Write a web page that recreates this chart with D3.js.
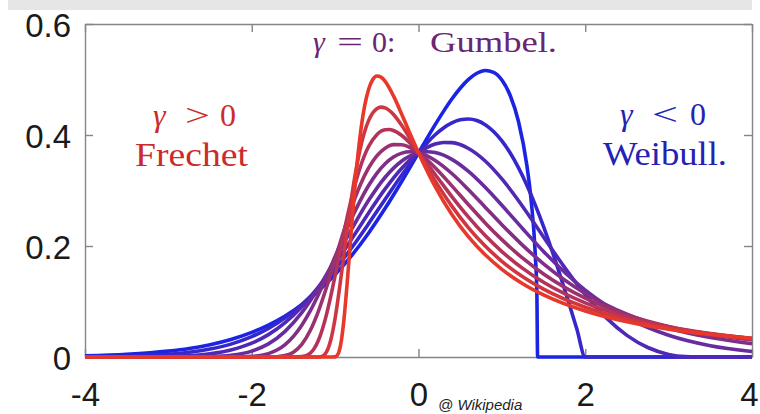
<!DOCTYPE html>
<html><head><meta charset="utf-8">
<script src="https://cdn.jsdelivr.net/npm/d3@7"></script>
<style>html,body{margin:0;padding:0;background:#fff;overflow:hidden}</style>
</head><body>
<svg id="chart" width="760" height="414"></svg>
<script>
// shape parameters (gamma) of the plotted densities, blue -> red
const gammaValues = [-0.7, -0.5, -0.3, -0.1, 0.1, 0.3, 0.5, 0.7, 0.9];
const xTickValues = [-4, -2, 0, 2, 4];
const yTickValues = [0, 0.2, 0.4, 0.6];

// density values, [x, density]
const curveGm07 = [[-4,0.0021],[-3.5,0.0048],[-3,0.0106],[-2.75,0.0154],[-2.5,0.0222],[-2.25,0.0315],[-2,0.0443],[-1.8,0.0575],[-1.6,0.0740],[-1.4,0.0943],[-1.2,0.1190],[-1,0.1486],[-0.8,0.1832],[-0.6,0.2231],[-0.4,0.2679],[-0.2,0.3167],[0,0.3679],[0.1,0.3935],[0.2,0.4186],[0.3,0.4426],[0.4,0.4648],[0.5,0.4843],[0.6,0.5002],[0.7,0.5113],[0.8,0.5162],[0.9,0.5129],[1.0,0.4990],[1.1,0.4712],[1.2,0.4239],[1.3,0.3450],[1.35,0.2839],[1.4,0.1863],[1.42,0.1116],[1.4286,0],[4,0]];
const curveGm05 = [[-4,0.0004],[-3.5,0.0014],[-3,0.0048],[-2.75,0.0084],[-2.5,0.0143],[-2.25,0.0232],[-2,0.0366],[-1.8,0.0514],[-1.6,0.0705],[-1.4,0.0945],[-1.2,0.1237],[-1,0.1581],[-0.8,0.1972],[-0.6,0.2399],[-0.4,0.2843],[-0.2,0.3280],[0,0.3679],[0.1,0.3853],[0.2,0.4004],[0.3,0.4127],[0.4,0.4218],[0.5,0.4273],[0.6,0.4288],[0.7,0.4260],[0.8,0.4186],[0.9,0.4064],[1.0,0.3894],[1.1,0.3675],[1.2,0.3409],[1.3,0.3096],[1.4,0.2742],[1.5,0.2349],[1.6,0.1922],[1.7,0.1467],[1.8,0.0990],[1.9,0.0499],[2,0],[4,0]];
const curveGm03 = [[-4,0],[-3.5,0.0001],[-3,0.0009],[-2.75,0.0024],[-2.5,0.0058],[-2.25,0.0126],[-2,0.0249],[-1.8,0.0403],[-1.6,0.0620],[-1.4,0.0907],[-1.2,0.1263],[-1,0.1677],[-0.8,0.2130],[-0.6,0.2592],[-0.4,0.3029],[-0.2,0.3401],[0,0.3679],[0.1,0.3774],[0.2,0.3837],[0.3,0.3866],[0.4,0.3862],[0.6,0.3756],[0.8,0.3531],[1.0,0.3208],[1.2,0.2816],[1.4,0.2384],[1.6,0.1942],[1.8,0.1515],[2,0.1124],[2.25,0.0709],[2.5,0.0390],[2.75,0.0171],[3,0.0047],[3.2,0.0006],[3.333,0],[4,0]];
const curveGm01 = [[-4,0],[-3,0],[-2.75,0.0001],[-2.5,0.0007],[-2.25,0.0031],[-2,0.0106],[-1.8,0.0236],[-1.6,0.0462],[-1.4,0.0798],[-1.2,0.1242],[-1,0.1763],[-0.8,0.2308],[-0.6,0.2818],[-0.4,0.3239],[-0.2,0.3532],[-0.1,0.3624],[0,0.3679],[0.1,0.3698],[0.2,0.3683],[0.4,0.3562],[0.6,0.3344],[0.8,0.3058],[1.0,0.2734],[1.25,0.2311],[1.5,0.1902],[2,0.1205],[2.5,0.0710],[3,0.0392],[3.5,0.0204],[4,0.0100]];
const curveGp01 = [[-4,0],[-2.5,0],[-2.25,0],[-2,0.0011],[-1.8,0.0061],[-1.6,0.0223],[-1.5,0.0372],[-1.4,0.0573],[-1.3,0.0825],[-1.2,0.1126],[-1.1,0.1459],[-1,0.1810],[-0.9,0.2164],[-0.8,0.2504],[-0.7,0.2814],[-0.6,0.3085],[-0.5,0.3309],[-0.4,0.3482],[-0.3,0.3602],[-0.2,0.3673],[-0.1,0.3697],[0,0.3679],[0.2,0.3541],[0.4,0.3306],[0.6,0.3014],[0.8,0.2699],[1.0,0.2384],[1.25,0.2012],[1.5,0.1679],[2,0.1145],[2.5,0.0772],[3,0.0519],[3.5,0.0351],[4,0.0239]];
const curveGp03 = [[-4,0],[-3.333,0],[-2.5,0],[-2,0],[-1.8,0],[-1.7,0.0005],[-1.6,0.0025],[-1.5,0.0087],[-1.4,0.0227],[-1.3,0.0472],[-1.2,0.0827],[-1.1,0.1269],[-1,0.1759],[-0.9,0.2251],[-0.8,0.2706],[-0.7,0.3096],[-0.6,0.3403],[-0.5,0.3625],[-0.4,0.3763],[-0.3,0.3826],[-0.2,0.3825],[-0.1,0.3772],[0,0.3679],[0.2,0.3410],[0.4,0.3084],[0.6,0.2744],[0.8,0.2416],[1.0,0.2114],[1.25,0.1780],[1.5,0.1496],[2,0.1059],[2.5,0.0758],[3,0.0551],[3.5,0.0407],[4,0.0305]];
const curveGp05 = [[-4,0],[-2,0],[-1.5,0],[-1.4,0.0006],[-1.3,0.0067],[-1.25,0.0155],[-1.2,0.0302],[-1.15,0.0514],[-1.1,0.0787],[-1.05,0.1110],[-1,0.1465],[-0.95,0.1836],[-0.9,0.2204],[-0.85,0.2555],[-0.8,0.2879],[-0.7,0.3415],[-0.6,0.3788],[-0.5,0.4006],[-0.4,0.4094],[-0.35,0.4098],[-0.3,0.4080],[-0.2,0.3991],[-0.1,0.3852],[0,0.3679],[0.2,0.3288],[0.4,0.2890],[0.6,0.2519],[0.8,0.2188],[1.0,0.1900],[1.25,0.1596],[1.5,0.1346],[2,0.0974],[2.5,0.0721],[3,0.0545],[3.5,0.0421],[4,0.0331]];
const curveGp07 = [[-4,0],[-1.4286,0],[-1.25,0],[-1.2,0.0001],[-1.15,0.0017],[-1.125,0.0046],[-1.1,0.0101],[-1.075,0.0191],[-1.05,0.0320],[-1.025,0.0491],[-1,0.0699],[-0.95,0.1207],[-0.9,0.1783],[-0.85,0.2364],[-0.8,0.2901],[-0.75,0.3367],[-0.7,0.3748],[-0.65,0.4041],[-0.6,0.4254],[-0.55,0.4396],[-0.5,0.4474],[-0.45,0.4502],[-0.4,0.4488],[-0.3,0.4370],[-0.2,0.4172],[-0.1,0.3934],[0,0.3679],[0.2,0.3174],[0.4,0.2719],[0.6,0.2328],[0.8,0.2000],[1.0,0.1725],[1.25,0.1446],[1.5,0.1222],[2,0.0896],[2.5,0.0677],[3,0.0525],[3.5,0.0417],[4,0.0337]];
const curveGp09 = [[-4,0],[-1.111,0],[-1.05,0],[-1,0.0003],[-0.975,0.0028],[-0.95,0.0114],[-0.925,0.0299],[-0.9,0.0594],[-0.85,0.1434],[-0.8,0.2401],[-0.75,0.3285],[-0.7,0.3988],[-0.65,0.4492],[-0.6,0.4817],[-0.55,0.4995],[-0.5,0.5062],[-0.45,0.5043],[-0.4,0.4967],[-0.3,0.4704],[-0.2,0.4370],[-0.1,0.4020],[0,0.3679],[0.2,0.3069],[0.4,0.2567],[0.6,0.2164],[0.8,0.1841],[1.0,0.1580],[1.25,0.1321],[1.5,0.1119],[2,0.0828],[2.5,0.0634],[3,0.0500],[3.5,0.0404],[4,0.0332]];

const curves = [curveGm07, curveGm05, curveGm03, curveGm01, curveGp01, curveGp03, curveGp05, curveGp07, curveGp09];

const svg = d3.select("#chart");
const x = d3.scaleLinear().domain([-4, 4]).range([85, 752]);
const y = d3.scaleLinear().domain([0, 0.6]).range([357, 24]);

// light grey band at the top of the picture
svg.append("rect").attr("x", 8).attr("y", 0).attr("width", 744).attr("height", 10).attr("fill", "#e6e6e6");

const axisColor = "#858585";
const sans = "'Liberation Sans', Arial, Helvetica, sans-serif";
function styleAxis(g) {
  g.select(".domain").attr("stroke", axisColor).attr("stroke-width", 1.4);
  g.selectAll(".tick line").attr("stroke", axisColor).attr("stroke-width", 1.4);
  g.selectAll(".tick text").attr("fill", "#1a1a1a").attr("font-family", sans).attr("font-size", 33);
}
const fmt = d => d === 0 ? "0" : (Number.isInteger(d) ? String(d) : d.toFixed(1));

const bottom = svg.append("g").attr("transform", `translate(0,${y(0)})`)
  .call(d3.axisBottom(x).tickValues(xTickValues).tickSizeInner(-8).tickSizeOuter(0).tickPadding(26).tickFormat(fmt))
  .call(styleAxis);
// keep the last label inside the picture
bottom.selectAll(".tick text").filter(d => d === 4).attr("dx", -3);
svg.append("g").attr("transform", `translate(0,${y(0.6)})`)
  .call(d3.axisTop(x).tickValues(xTickValues).tickSizeInner(-8).tickSizeOuter(0).tickFormat(""))
  .call(styleAxis);
const left = svg.append("g").attr("transform", `translate(${x(-4)},0)`)
  .call(d3.axisLeft(y).tickValues(yTickValues).tickSizeInner(-8).tickSizeOuter(0).tickPadding(14).tickFormat(fmt))
  .call(styleAxis);
left.selectAll(".tick text").attr("dy", "0.38em");
svg.append("g").attr("transform", `translate(${x(4)},0)`)
  .call(d3.axisRight(y).tickValues(yTickValues).tickSizeInner(-8).tickSizeOuter(0).tickFormat(""))
  .call(styleAxis);

// density curves
const line = d3.line().x(d => x(d[0])).y(d => y(d[1])).curve(d3.curveMonotoneX);
const color = d3.scaleLinear().domain([0, gammaValues.length - 1]).range(["#1c24e4", "#e8382a"]).interpolate(d3.interpolateRgb);
svg.append("g").selectAll("path").data(curves).join("path")
  .attr("d", d => line(d))
  .attr("fill", "none")
  .attr("stroke", (d, i) => color(i))
  .attr("stroke-width", 3.6)
  .attr("stroke-linejoin", "round");

// annotations
const serif = "'Liberation Serif', 'Times New Roman', serif";
function label(px, py, str, fill, size, opts = {}) {
  const t = svg.append("text").attr("x", px).attr("y", py).text(str)
    .attr("fill", fill).attr("font-family", serif).attr("font-size", size);
  if (opts.italic) t.attr("font-style", "italic");
  if (opts.len) t.attr("textLength", opts.len).attr("lengthAdjust", "spacingAndGlyphs");
  return t;
}
const cGum = "#6b2573", cFre = "#cc2b2b", cWei = "#2222b4";
label(313, 52, "γ", cGum, 30, {italic: true});
label(337, 52, "=", cGum, 30, {len: 26});
label(372, 52, "0:", cGum, 30);
label(430, 52, "Gumbel.", cGum, 30, {len: 127});

label(153, 126, "γ", cFre, 32, {italic: true});
label(185, 126, ">", cFre, 32, {len: 25});
label(220, 126, "0", cFre, 32);
label(135, 166, "Frechet", cFre, 33, {len: 113});

label(620, 125, "γ", cWei, 32, {italic: true});
label(652, 125, "<", cWei, 32, {len: 26});
label(690, 125, "0", cWei, 32);
label(603, 165, "Weibull.", cWei, 33, {len: 124});

svg.append("text").attr("x", 438).attr("y", 410).text("@ Wikipedia")
  .attr("font-family", sans).attr("font-style", "italic").attr("font-size", 15).attr("fill", "#222");
</script>
</body></html>
